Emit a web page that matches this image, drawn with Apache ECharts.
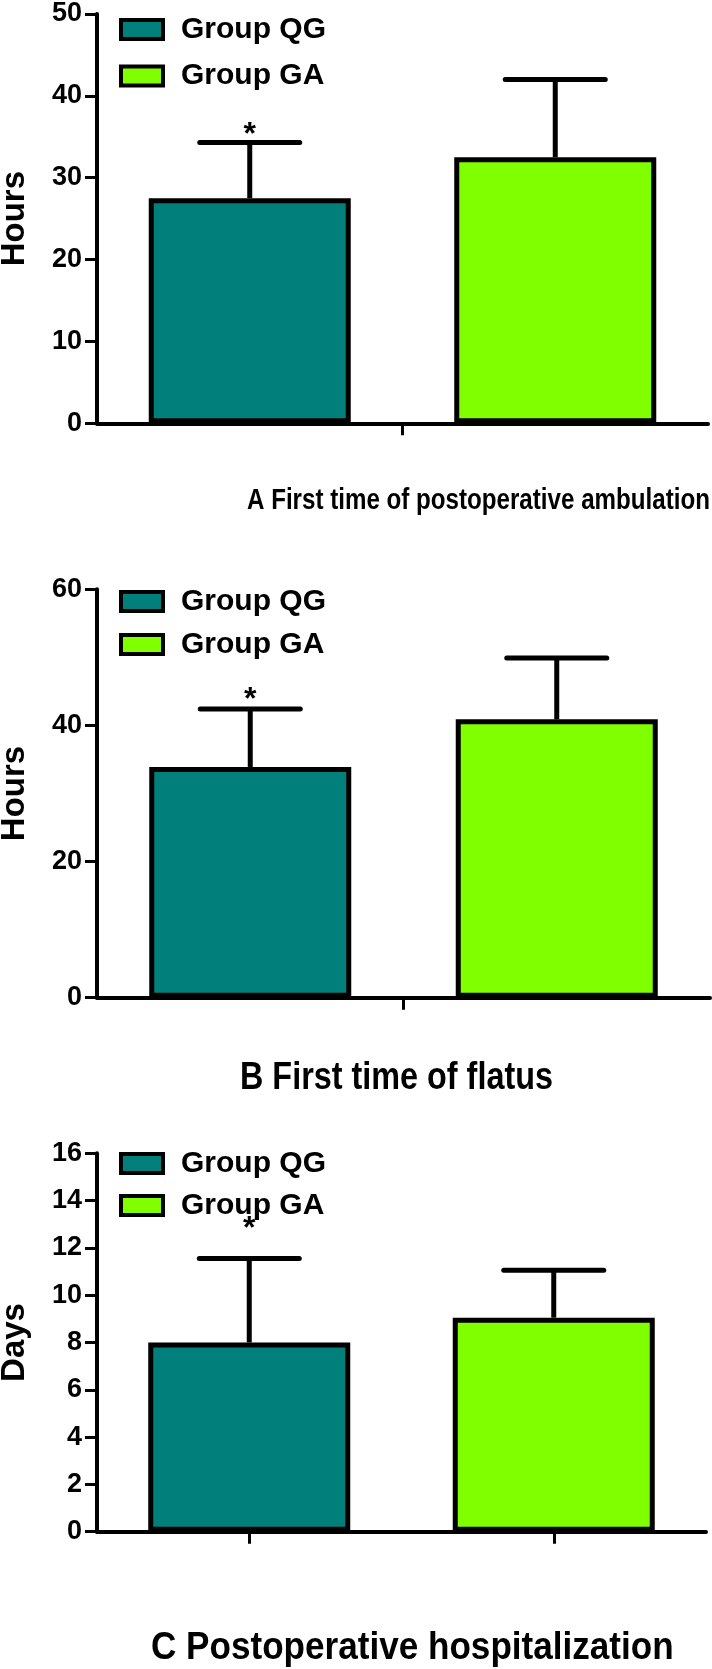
<!DOCTYPE html>
<html><head><meta charset="utf-8">
<script src="https://cdn.jsdelivr.net/npm/echarts@6/dist/echarts.min.js"></script>
<style>html,body{margin:0;padding:0;background:#fff}#c{width:712px;height:1669px}</style>
</head><body><div id="c"></div>
<script>
// ---- data ----
const groups = ['Group QG', 'Group GA'];
const ambulationMean = [27.5, 32.5];      // hours
const ambulationUpper = [34.3, 42.0];     // mean + SD
const flatusMean = [33.9, 40.9];          // hours
const flatusUpper = [42.4, 49.9];
const hospitalMean = [8.0, 9.05];         // days
const hospitalUpper = [11.55, 11.05];
const significance = ['*', ''];
const ambulationAxis = [0, 50, 10];       // min, max, step
const flatusAxis = [0, 60, 20];
const hospitalAxis = [0, 16, 2];

const colors = ['#007f7b', '#80ff00'];
const FONT = "'Liberation Sans', Arial, sans-serif";

const panels = [
  {mean: ambulationMean, upper: ambulationUpper, axis: ambulationAxis, yName: 'Hours',
   title: 'A First time of postoperative ambulation', singleTick: true,
   grid: {left: 97, top: 14, width: 611, height: 409.3}, starOffset: 14,
   legendTop: 9.5, legendGap: 16.5, titleX: 247, titleY: 501, titleSize: 30, titleScale: 0.805},
  {mean: flatusMean, upper: flatusUpper, axis: flatusAxis, yName: 'Hours',
   title: 'B First time of flatus', singleTick: true,
   grid: {left: 97, top: 589.3, width: 613, height: 408.4}, starOffset: 16,
   legendTop: 581.5, legendGap: 13, titleX: 240, titleY: 1078, titleSize: 39, titleScale: 0.83},
  {mean: hospitalMean, upper: hospitalUpper, axis: hospitalAxis, yName: 'Days',
   title: 'C Postoperative hospitalization', singleTick: false,
   grid: {left: 97, top: 1153.3, width: 609, height: 378.4}, starOffset: 36,
   legendTop: 1143.5, legendGap: 12, titleX: 151, titleY: 1648, titleSize: 39, titleScale: 0.90}
];

const grid = [], xAxis = [], yAxis = [], series = [], legend = [], graphic = [];
const axisLineStyle = {color: '#000', width: 4};

panels.forEach((p, k) => {
  grid.push(Object.assign({containLabel: false, outerBoundsMode: 'none'}, p.grid));
  const barAxisIndex = xAxis.length;
  xAxis.push({
    type: 'category', gridIndex: k, data: groups, position: 'bottom',
    axisLine: {show: !p.singleTick, lineStyle: axisLineStyle},
    axisTick: {show: !p.singleTick, alignWithLabel: true, length: 12, lineStyle: {color: '#000', width: 3}},
    axisLabel: {show: false}, splitLine: {show: false}
  });
  if (p.singleTick) {
    xAxis.push({
      type: 'category', gridIndex: k, data: [''], position: 'bottom',
      axisLine: {show: true, lineStyle: axisLineStyle},
      axisTick: {show: true, alignWithLabel: true, length: 12, lineStyle: {color: '#000', width: 3}},
      axisLabel: {show: false}, splitLine: {show: false}
    });
  }
  yAxis.push({
    type: 'value', gridIndex: k, min: p.axis[0], max: p.axis[1], interval: p.axis[2],
    name: p.yName, nameLocation: 'middle', nameRotate: 90, nameGap: 66,
    nameTextStyle: {fontSize: 33, fontWeight: 'bold', color: '#000', fontFamily: FONT},
    axisLine: {show: true, lineStyle: axisLineStyle},
    axisTick: {show: true, length: 12, lineStyle: {color: '#000', width: 3}},
    axisLabel: {fontSize: 27, fontWeight: 'bold', color: '#000', margin: 15, fontFamily: FONT},
    splitLine: {show: false}
  });
  groups.forEach((g, i) => {
    series.push({
      type: 'bar', name: g, xAxisIndex: barAxisIndex, yAxisIndex: k,
      data: groups.map((_, j) => j === i ? p.mean[j] : '-'),
      barWidth: 202, barGap: '-100%',
      itemStyle: {color: colors[i], borderColor: '#000', borderWidth: 5},
      emphasis: {disabled: true}, z: 2
    });
  });
  const starOffset = p.starOffset;
  series.push({
    type: 'custom', name: 'sd' + k, xAxisIndex: barAxisIndex, yAxisIndex: k, z: 5,
    data: groups.map((_, j) => [j, p.mean[j], p.upper[j]]),
    renderItem: function (params, api) {
      const i = api.value(0);
      const base = api.coord([i, api.value(1)]);
      const top = api.coord([i, api.value(2)]);
      const children = [
        {type: 'line', shape: {x1: base[0], y1: base[1], x2: top[0], y2: top[1]},
         style: {stroke: '#000', lineWidth: 5}},
        {type: 'line', shape: {x1: top[0] - 50, y1: top[1], x2: top[0] + 50, y2: top[1]},
         style: {stroke: '#000', lineWidth: 5, lineCap: 'round'}}
      ];
      const s = significance[params.dataIndex];
      if (s) {
        children.push({type: 'text', x: top[0], y: top[1] - starOffset + 7,
          style: {text: s, font: 'bold 32px ' + FONT, fill: '#000', align: 'center', verticalAlign: 'middle'}});
      }
      return {type: 'group', children: children};
    }
  });
  legend.push({
    data: groups, orient: 'vertical', left: 114, top: p.legendTop, itemGap: p.legendGap,
    itemWidth: 42, itemHeight: 19, icon: 'rect', selectedMode: false,
    itemStyle: {borderColor: '#000', borderWidth: 4},
    textStyle: {fontSize: 30, fontWeight: 'bold', color: '#000', fontFamily: FONT, padding: [0, 0, 0, 13]}
  });
  graphic.push({
    type: 'text', x: p.titleX, y: p.titleY, scaleX: p.titleScale, scaleY: 1,
    style: {text: p.title, font: 'bold ' + p.titleSize + 'px ' + FONT, fill: '#000',
            align: 'left', verticalAlign: 'middle'}
  });
});

const chart = echarts.init(document.getElementById('c'), null, {renderer: 'canvas'});
chart.setOption({
  animation: false, backgroundColor: '#fff',
  grid, xAxis, yAxis, series, legend, graphic, tooltip: {show: false}
});
</script>
</body></html>
